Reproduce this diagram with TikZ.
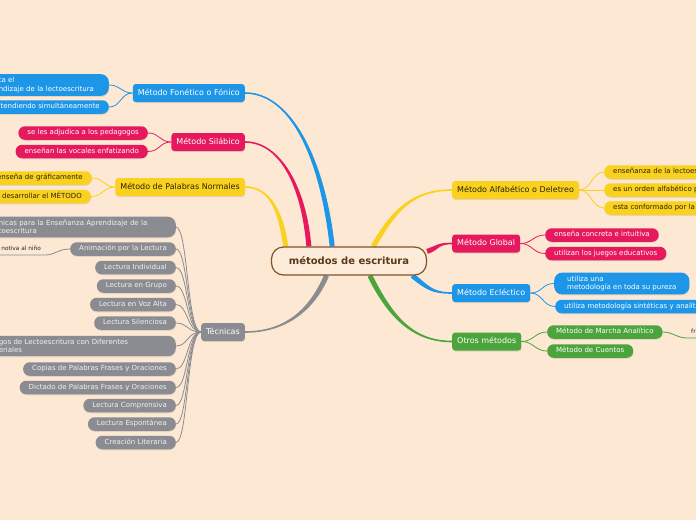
\documentclass[tikz,border=0pt]{standalone}
\usepackage{fontspec}
\setmainfont{DejaVu Sans}
\usetikzlibrary{shadows,backgrounds,calc}

\definecolor{bgpeach}{RGB}{253,232,211}
\definecolor{rootfill}{RGB}{254,236,218}
\definecolor{rootline}{RGB}{128,82,42}
\definecolor{roottext}{RGB}{92,56,22}
\definecolor{mblue}{RGB}{29,150,232}
\definecolor{mpink}{RGB}{230,25,95}
\definecolor{myellow}{RGB}{249,209,30}
\definecolor{mgray}{RGB}{139,140,145}
\definecolor{mgreen}{RGB}{76,164,60}
\definecolor{ytext}{RGB}{40,35,10}
\definecolor{gtext}{RGB}{242,242,242}

\tikzset{
  softshadow/.style={drop shadow={shadow xshift=0.3pt, shadow yshift=-1pt, opacity=0.2}},
  mainbox/.style={rectangle, rounded corners=3pt, minimum height=18pt, inner xsep=5pt, inner ysep=0pt,
    text height=6pt, text depth=1.8pt, font=\fontsize{8}{10}\selectfont, text=white, softshadow},
  leafbox/.style={rectangle, rounded corners=6.5pt, minimum height=13.5pt, inner xsep=9pt, inner ysep=0pt,
    text height=5.3pt, text depth=1.5pt, font=\fontsize{7}{9}\selectfont, text=white, softshadow},
  multibox/.style={rectangle, rounded corners=8pt, inner xsep=9pt, inner ysep=3.2pt, align=left,
    font=\fontsize{7}{8.6}\selectfont, text=white, softshadow},
  plainnote/.style={inner xsep=4pt, inner ysep=4pt, font=\fontsize{5.8}{7}\selectfont, text=black!85},
  twig/.style={line width=0.8pt},
}

% tapered branch: colour, start, start half-width, first control (rel.), second control (rel.), end, end half-width
\newcommand{\taper}[7]{%
  \fill[#1] ($(#2)+(#3)$) .. controls ($(#2)+(#4)+(#3)$) and ($(#6)+(#5)+(#7)$) .. ($(#6)+(#7)$)
    -- ($(#6)-(#7)$) .. controls ($(#6)+(#5)-(#7)$) and ($(#2)+(#4)-(#3)$) .. ($(#2)-(#3)$) -- cycle;}

\begin{document}
\begin{tikzpicture}[x=1pt, y=-1pt]
    \useasboundingbox (0,0) rectangle (696,520);
    \clip (0,0) rectangle (696,520);

    %% centre
    \node[draw=rootline, line width=1.2pt, fill=rootfill, rounded corners=12pt, minimum width=155pt, minimum height=28pt,
      font=\bfseries\fontsize{10}{12}\selectfont, text=roottext] (root) at (349,261) {métodos de escritura};

    %% left side
    \node[mainbox, fill=mblue, anchor=east] (fon) at (245,93) {Método Fonético o Fónico};
    \node[mainbox, fill=mpink, anchor=east] (sil) at (245,142) {Método Silábico};
    \node[mainbox, fill=myellow, text=ytext, anchor=east] (pal) at (245,187) {Método de Palabras Normales};
    \node[mainbox, fill=mgray, anchor=east] (tec) at (245,332) {Técnicas};

    \node[multibox, fill=mblue, anchor=east, text width=101pt] (fon1) at (109,85) {ta el\\ndizaje de la lectoescritura};
    \node[leafbox, fill=mblue, anchor=east, text width=110pt, align=right] (fon2) at (109,107) {tendiendo simultáneamente};

    \node[leafbox, fill=mpink, anchor=east] (sil1) at (148,133) {se les adjudica a los pedagogos};
    \node[leafbox, fill=mpink, anchor=east] (sil2) at (148,151.5) {enseñan las vocales enfatizando};

    \node[leafbox, fill=myellow, text=ytext, anchor=east, text width=95pt, align=right] (pal1) at (92,178) {enseña de gráficamente};
    \node[leafbox, fill=myellow, text=ytext, anchor=east, text width=95pt, align=right] (pal2) at (91,196.5) {desarrollar el MÉTODO};

    \node[multibox, fill=mgray, text=gtext, anchor=east, text width=168pt] (tec1) at (176,227) {nicas para la Enseñanza Aprendizaje de la\\toescritura};
    \node[leafbox, fill=mgray, text=gtext, anchor=east] (tec2) at (176,249) {Animación por la Lectura};
    \node[leafbox, fill=mgray, text=gtext, anchor=east] (tec3) at (176,267.5) {Lectura Individual};
    \node[leafbox, fill=mgray, text=gtext, anchor=east] (tec4) at (176,286) {Lectura en Grupo};
    \node[leafbox, fill=mgray, text=gtext, anchor=east] (tec5) at (176,304.5) {Lectura en Voz Alta};
    \node[leafbox, fill=mgray, text=gtext, anchor=east] (tec6) at (176,323) {Lectura Silenciosa};
    \node[multibox, fill=mgray, text=gtext, anchor=east, text width=168pt] (tec7) at (176,346) {gos de Lectoescritura con Diferentes\\eriales};
    \node[leafbox, fill=mgray, text=gtext, anchor=east] (tec8) at (176,369) {Copias de Palabras Frases y Oraciones};
    \node[leafbox, fill=mgray, text=gtext, anchor=east] (tec9) at (176,387.5) {Dictado de Palabras Frases y Oraciones};
    \node[leafbox, fill=mgray, text=gtext, anchor=east] (tec10) at (176,405.5) {Lectura Comprensiva};
    \node[leafbox, fill=mgray, text=gtext, anchor=east] (tec11) at (176,424) {Lectura Espontánea};
    \node[leafbox, fill=mgray, text=gtext, anchor=east] (tec12) at (176,442.5) {Creación Literaria};

    \node[plainnote, anchor=south east] (nino) at (45,255) {notiva al niño};

    %% right side
    \node[mainbox, fill=myellow, text=ytext, anchor=west] (alf) at (452,190) {Método Alfabético o Deletreo};
    \node[mainbox, fill=mpink, anchor=west] (glo) at (452,243.5) {Método Global};
    \node[mainbox, fill=mblue, anchor=west] (ecl) at (452,293) {Método Ecléctico};
    \node[mainbox, fill=mgreen, anchor=west] (otr) at (452,341.5) {Otros métodos};

    \node[leafbox, fill=myellow, text=ytext, anchor=west, text width=100pt, align=left] (alf1) at (604,172) {enseñanza de la lectoes};
    \node[leafbox, fill=myellow, text=ytext, anchor=west, text width=100pt, align=left] (alf2) at (604,190) {es un orden alfabético p};
    \node[leafbox, fill=myellow, text=ytext, anchor=west, text width=100pt, align=left] (alf3) at (604,208) {esta conformado por la};

    \node[leafbox, fill=mpink, anchor=west] (glo1) at (545,235) {enseña concreta e intuitiva};
    \node[leafbox, fill=mpink, anchor=west] (glo2) at (545,253.5) {utilizan los juegos educativos};

    \node[multibox, fill=mblue, anchor=west, inner xsep=13pt] (ecl1) at (554,283.5) {utiliza una\\metodología en toda su pureza};
    \node[leafbox, fill=mblue, anchor=west, text width=140pt, align=left] (ecl2) at (555,306.5) {utiliza metodología sintéticas y analíti};

    \node[leafbox, fill=mgreen, anchor=west] (otr1) at (547,332) {Método de Marcha Analítico};
    \node[leafbox, fill=mgreen, anchor=west] (otr2) at (547,351) {Método de Cuentos};

    \node[plainnote, anchor=south west] (fr) at (687,338) {fr};

    \begin{scope}[on background layer]
    \fill[bgpeach] (0,0) rectangle (696,520);

    % main branches
    \taper{mblue}{root.139}{2.5,-0.3}{-10,-90}{45,0}{fon.east}{0,-0.8}
    \taper{mpink}{root.160}{2.5,-0.2}{-5,-60}{35,0}{sil.east}{0,-0.8}
    \taper{myellow}{root.167.5}{2.47,-0.35}{-5,-35}{25,0}{pal.east}{0,-0.8}
    \taper{mgray}{root.213}{-2.3,-1}{-15,35}{40,0}{tec.east}{0,-0.8}
    \taper{myellow}{root.31}{2.17,1.24}{20,-35}{-40,0}{alf.west}{0,0.8}
    \taper{mpink}{root.7}{0.8,2.4}{12,-4}{-15,0}{glo.west}{0,0.8}
    \taper{mblue}{root.347}{-1.56,1.95}{15,12}{-20,0}{ecl.west}{0,0.8}
    \taper{mgreen}{root.325}{-2.24,1.12}{20,40}{-40,0}{otr.west}{0,0.8}

    % twigs
    \foreach \n in {fon1,fon2} \draw[twig, mblue] (fon.west) .. controls +(-12,0) and +(12,0) .. (\n.east);
    \foreach \n in {sil1,sil2} \draw[twig, mpink] (sil.west) .. controls +(-12,0) and +(12,0) .. (\n.east);
    \foreach \n in {pal1,pal2} \draw[twig, myellow] (pal.west) .. controls +(-12,0) and +(12,0) .. (\n.east);
    \foreach \n in {tec1,tec2,tec3,tec4,tec5,tec6,tec7,tec8,tec9,tec10,tec11,tec12}
      \draw[twig, mgray] (tec.west) .. controls +(-14,0) and +(12,0) .. (\n.east);
    \draw[twig, mgray] (tec2.west) .. controls +(-12,0) and +(10,0) .. (nino.south east) -- (nino.south west);

    \foreach \n in {alf1,alf2,alf3} \draw[twig, myellow] (alf.east) .. controls +(12,0) and +(-12,0) .. (\n.west);
    \foreach \n in {glo1,glo2} \draw[twig, mpink] (glo.east) .. controls +(12,0) and +(-12,0) .. (\n.west);
    \foreach \n in {ecl1,ecl2} \draw[twig, mblue] (ecl.east) .. controls +(12,0) and +(-12,0) .. (\n.west);
    \foreach \n in {otr1,otr2} \draw[twig, mgreen] (otr.east) .. controls +(12,0) and +(-12,0) .. (\n.west);
    \draw[twig, mgreen] (otr1.east) .. controls +(10,0) and +(-10,0) .. (fr.south west) -- (fr.south east);
    \end{scope}
\end{tikzpicture}
\end{document}
